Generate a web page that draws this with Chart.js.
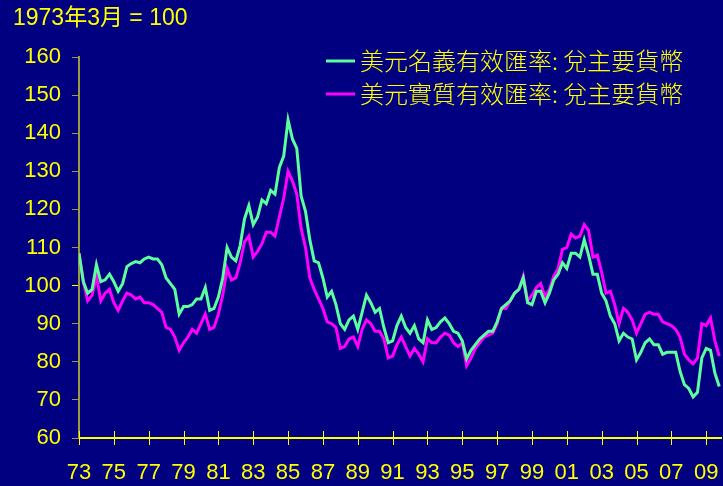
<!DOCTYPE html>
<html>
	<head>
		<title>美元有效匯率</title>
		<meta http-equiv="Content-Type" content="text/html; charset=UTF-8" />
		<script src="https://cdn.jsdelivr.net/npm/chart.js@4/dist/chart.umd.min.js"></script>
		<style>
			html, body { margin: 0; padding: 0; background: #000080; }
			canvas { display: block; }
		</style>
	</head>
	<body>
		<canvas id="myChart" width="723" height="486"></canvas>

		<script>
			// quarterly readings, first point = Mar 1973
			var startYear = 1973;
			var step = 0.25;

			var nominal = [
				108.5, 101, 98, 99, 105.5, 101, 101.5, 103, 101, 98.5,
				100.5, 105, 105.8, 106.3, 106, 107, 107.5, 107, 107, 105.5,
				102, 100.5, 99, 92.5, 94.5, 94.5, 95, 96.5, 96.5, 99.5,
				93.5, 94, 97, 102, 110, 107.5, 106.5, 110.5, 117.5, 121,
				116, 118, 122.5, 121.5, 125, 124, 131, 134, 143.5, 138.5,
				136, 123.5, 119.5, 112, 106.5, 106, 102, 97, 98.5, 95,
				90, 88.5, 91, 92, 88.5, 93, 97.5, 95.5, 93, 94,
				89, 85, 85.5, 89.5, 92, 89, 87.5, 89.5, 86, 85,
				91, 88.5, 89, 90.5, 91.5, 90, 88, 87.5, 85.5, 80.8,
				83, 84.5, 86, 87, 88, 88, 90.5, 94, 95, 96,
				98, 99, 102, 95.5, 95, 98.5, 98.5, 95.5, 98, 101.5,
				103, 106, 104.5, 108.5, 108.5, 107.5, 112, 108, 103, 103,
				98, 96, 92, 90, 85.5, 87.5, 86.5, 86, 80.5, 82.5,
				85, 86, 84.5, 84.5, 82, 82.5, 82.5, 82.5, 77.5, 74,
				73, 70.8, 72, 81, 83.5, 83, 77, 73.5
			];

			var real = [
				108.5, 101, 96, 97.5, 102.5, 96, 98, 99, 95.5, 93.5,
				96, 98, 97.5, 96.5, 97, 95.5, 95.5, 95, 94, 93,
				89, 88.5, 86.5, 83, 85, 86.5, 88.5, 87.5, 90, 92.5,
				88.5, 89, 92.5, 97.5, 104.5, 101.5, 102, 106, 111.5, 113,
				107.5, 109, 111, 114, 114, 113, 118, 123, 130, 127.5,
				124, 115, 110, 102, 99, 96.5, 94, 90.5, 90, 89,
				83.5, 84, 86, 86.5, 84, 88.5, 91, 90, 88, 88,
				86, 81, 81.5, 84.5, 86.5, 84, 81.5, 83.5, 82, 80,
				86, 85, 85, 86.5, 87.5, 87, 85, 84, 85, 79,
				81, 83.5, 85, 86.5, 87, 87.5, 90, 94, 94, 96,
				98, 99, 102.5, 96, 97.5, 99.5, 100.5, 97, 99, 102.5,
				104.5, 109.5, 110, 113.5, 112.5, 113, 116, 114.5, 107.5, 108,
				103.5, 98, 98.5, 95, 90, 94, 93, 91, 87.5, 90,
				92.5, 93, 92.5, 92.5, 90.5, 90, 89.5, 88.5, 86.5, 82,
				80.5, 79.5, 81, 90, 89.5, 91.5, 85.5, 81.5
			];

			var tickYears = [1973, 1975, 1977, 1979, 1981, 1983, 1985, 1987, 1989, 1991,
				1993, 1995, 1997, 1999, 2001, 2003, 2005, 2007, 2009];
			var tickLabels = ['73', '75', '77', '79', '81', '83', '85', '87', '89', '91',
				'93', '95', '97', '99', '01', '03', '05', '07', '09'];

			var seriesNames = ['美元名義有效匯率: 兌主要貨幣', '美元實質有效匯率: 兌主要貨幣'];
			var seriesColors = ['#5CFF9C', '#FF00FF'];
			var yellow = '#FFFF00';
			var olive = '#9C9A3A';

			function toPoints(arr) {
				return arr.map(function(v, i) {
					return { x: startYear + i * step, y: v };
				});
			}

			// title, legend and crossing x ticks
			var extras = {
				id: 'extras',
				afterDraw: function(chart) {
					var ctx = chart.ctx;
					var xs = chart.scales.x;
					var bottom = chart.chartArea.bottom;
					ctx.save();
					ctx.strokeStyle = yellow;
					ctx.lineWidth = 1;
					tickYears.forEach(function(yr) {
						var px = Math.round(xs.getPixelForValue(yr)) + 0.5;
						ctx.beginPath();
						ctx.moveTo(px, bottom - 7);
						ctx.lineTo(px, bottom + 7);
						ctx.stroke();
					});

					ctx.fillStyle = yellow;
					ctx.textBaseline = 'middle';
					ctx.textAlign = 'left';
					ctx.font = '23px "Liberation Sans", "Noto Sans CJK TC", sans-serif';
					ctx.fillText('1973年3月 = 100', 13, 19);

					ctx.font = '300 24px "Noto Sans CJK TC", "Liberation Sans", sans-serif';
					seriesNames.forEach(function(name, k) {
						var y = 61 + k * 33;
						ctx.strokeStyle = seriesColors[k];
						ctx.lineWidth = 3;
						ctx.beginPath();
						ctx.moveTo(326, y);
						ctx.lineTo(355, y);
						ctx.stroke();
						ctx.fillStyle = yellow;
						ctx.fillText(name, 360, y);
					});
					ctx.restore();
				}
			};

			var ctx = document.getElementById('myChart').getContext('2d');
			var chart = new Chart(ctx, {
				type: 'line',
				data: {
					datasets: [{
						label: seriesNames[0],
						data: toPoints(nominal),
						borderColor: seriesColors[0],
						borderWidth: 3,
						pointRadius: 0,
						tension: 0
					}, {
						label: seriesNames[1],
						data: toPoints(real),
						borderColor: seriesColors[1],
						borderWidth: 3,
						pointRadius: 0,
						tension: 0
					}]
				},
				options: {
					responsive: false,
					animation: false,
					devicePixelRatio: 1,
					layout: { padding: { top: 57, right: 2, left: 0, bottom: 0 } },
					plugins: {
						legend: { display: false },
						tooltip: { enabled: false }
					},
					scales: {
						x: {
							type: 'linear',
							min: 1973,
							max: 2009.85,
							afterBuildTicks: function(scale) {
								scale.ticks = tickYears.map(function(v) { return { value: v }; });
							},
							afterFit: function(scale) {
								scale.height = 48;
								scale.paddingLeft = 0;
								scale.paddingRight = 0;
							},
							grid: { display: false },
							border: { color: yellow, width: 2 },
							ticks: {
								color: yellow,
								padding: 14,
								autoSkip: false,
								maxRotation: 0,
								font: { family: '"Liberation Sans", Arial, sans-serif', size: 22 },
								callback: function(v) {
									var k = tickYears.indexOf(v);
									return k >= 0 ? tickLabels[k] : '';
								}
							}
						},
						y: {
							min: 60,
							max: 160,
							afterFit: function(scale) {
								scale.width = 79;
								scale.paddingTop = 0;
								scale.paddingBottom = 0;
							},
							grid: {
								drawOnChartArea: false,
								tickLength: 7,
								color: function(c) { return c.tick && c.tick.value === 100 ? yellow : olive; }
							},
							border: { color: olive, width: 2 },
							ticks: {
								stepSize: 10,
								color: yellow,
								padding: 11,
								font: { family: '"Liberation Sans", Arial, sans-serif', size: 22 }
							}
						}
					}
				},
				plugins: [extras]
			});
		</script>
	</body>
</html>
